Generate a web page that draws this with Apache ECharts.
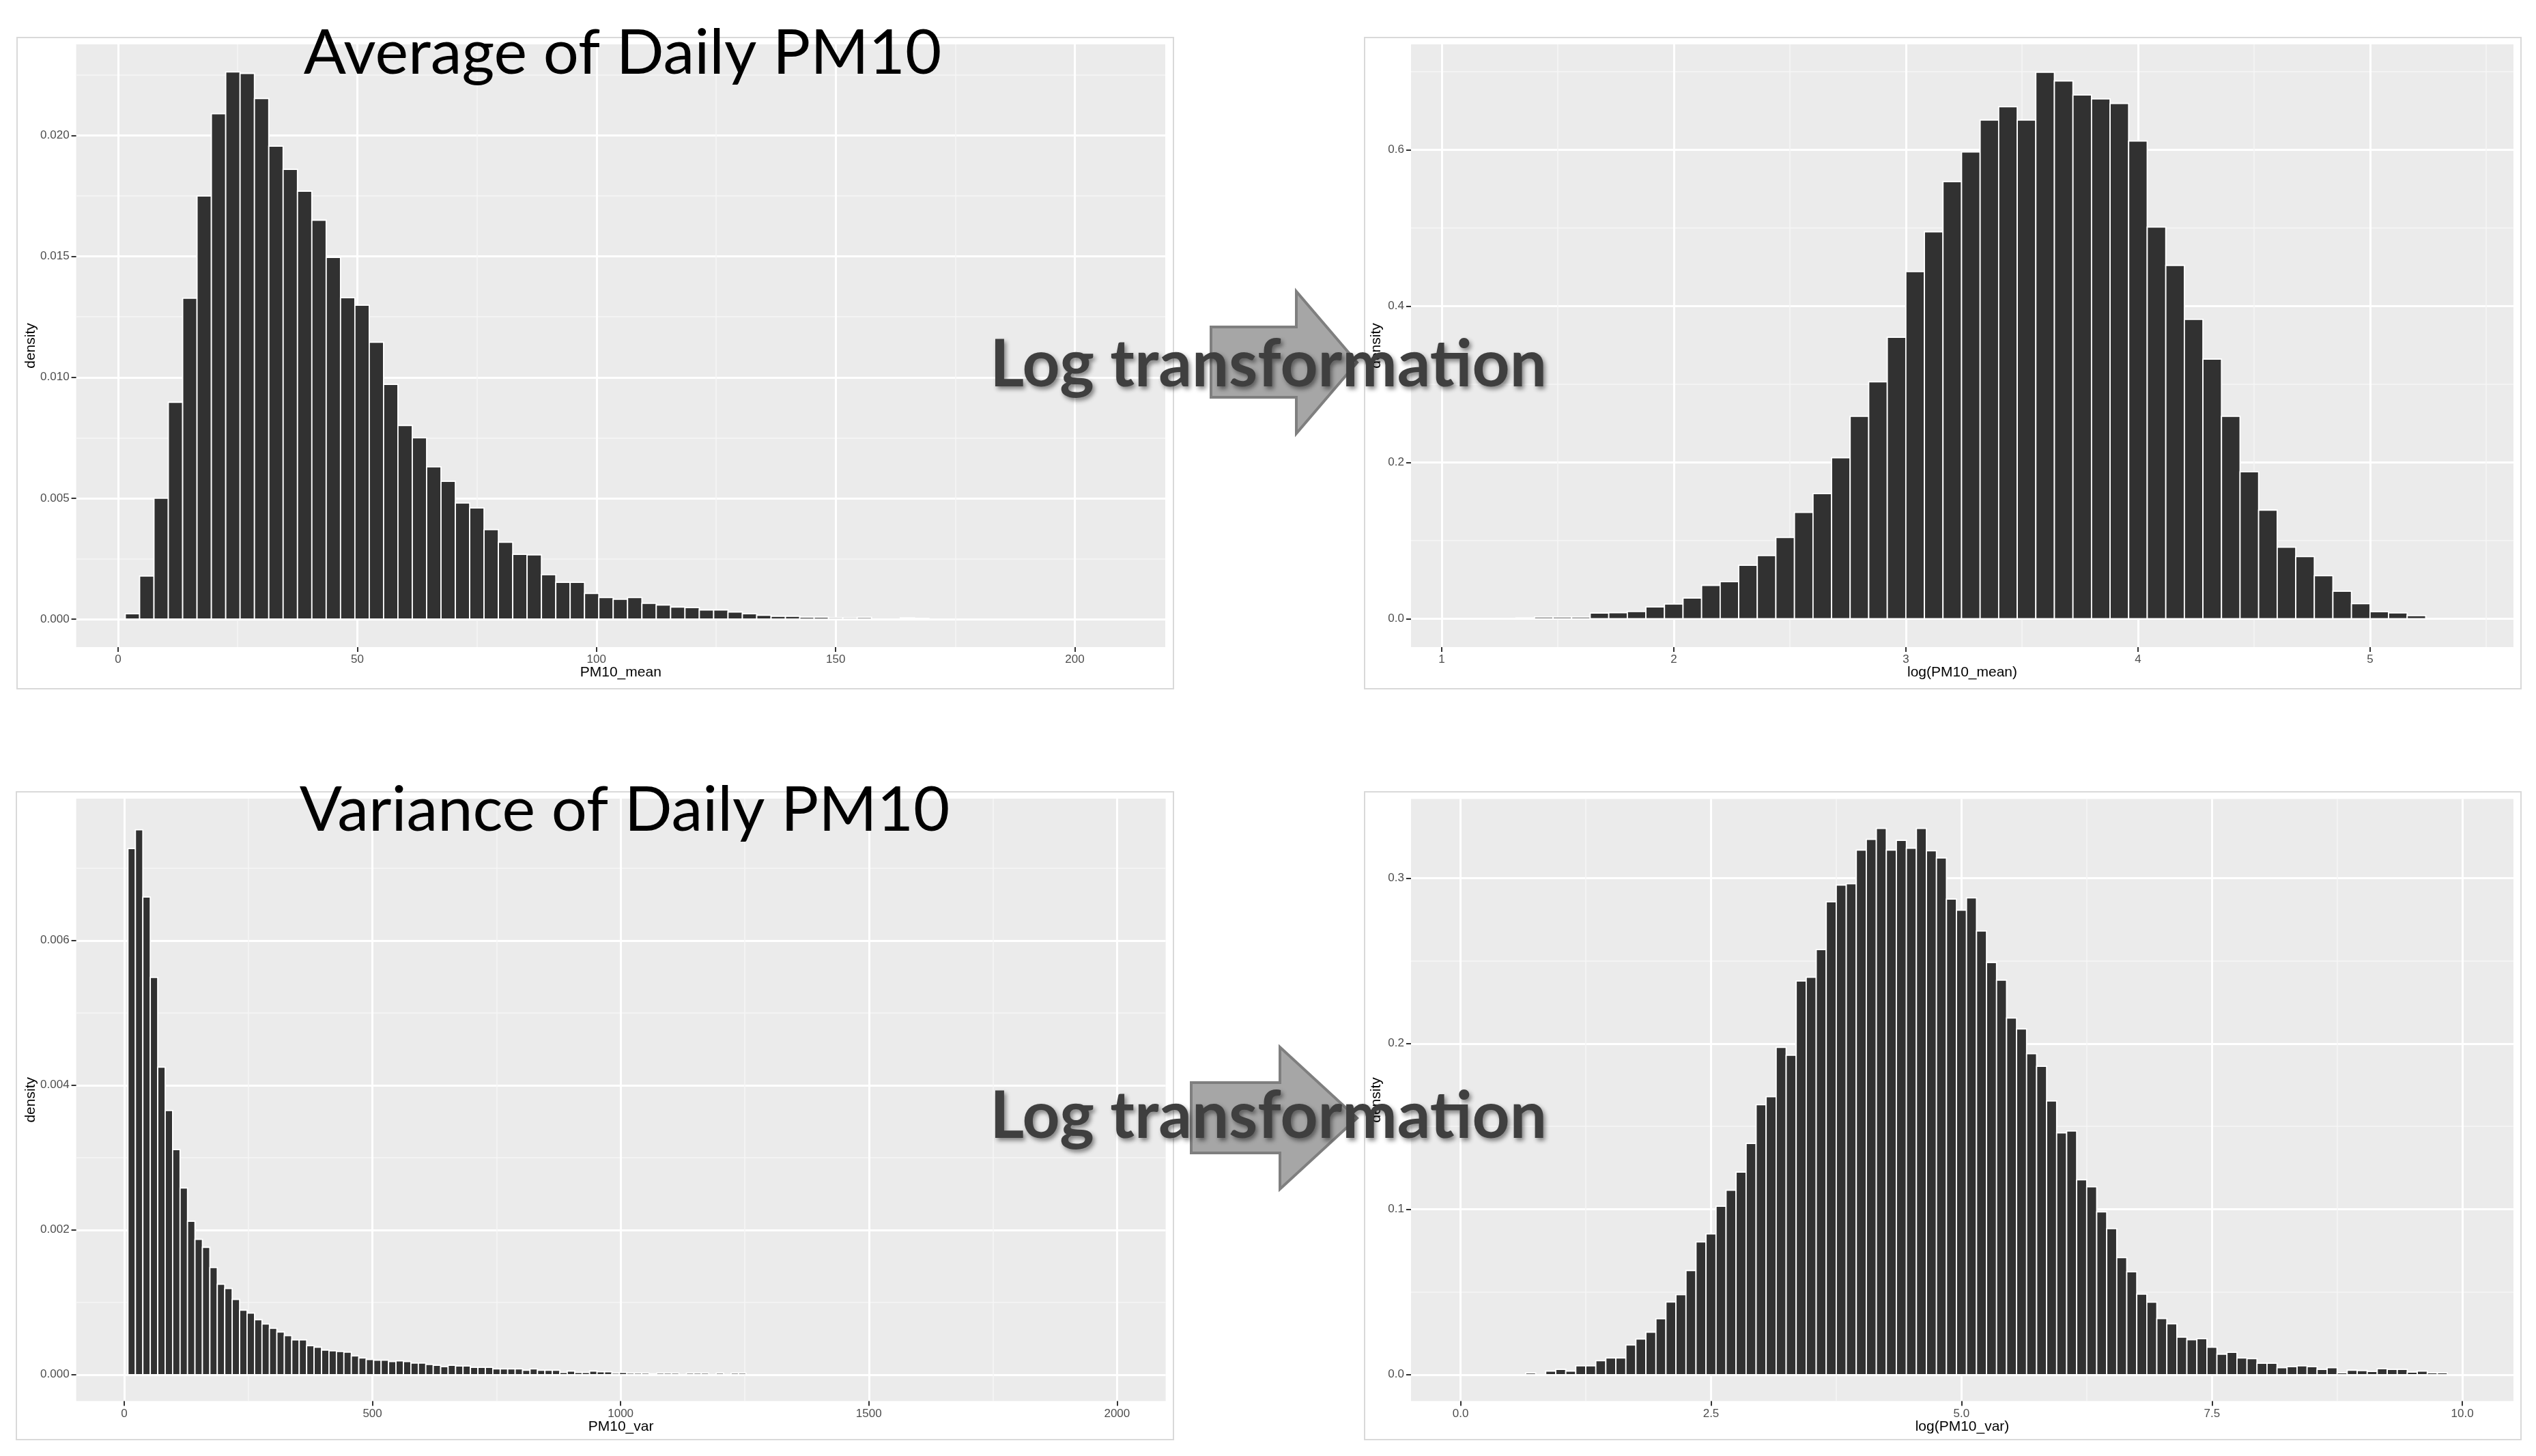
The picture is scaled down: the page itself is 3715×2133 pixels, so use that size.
<!DOCTYPE html>
<html>
<head>
<meta charset="utf-8">
<title>PM10 histograms</title>
<script src="https://cdn.jsdelivr.net/npm/echarts@6.0.0/dist/echarts.min.js"></script>
<style>
  html, body { margin: 0; padding: 0; background: #fff; }
  #main { width: 3715px; height: 2133px; }
</style>
</head>
<body>
<div id="main"></div>
<script>
// ---- Average of daily PM10 (binwidth 3) ----
var meanBins = [3, 6, 9, 12, 15, 18, 21, 24, 27, 30, 33, 36, 39, 42, 45, 48, 51, 54, 57, 60,
    63, 66, 69, 72, 75, 78, 81, 84, 87, 90, 93, 96, 99, 102, 105, 108, 111, 114, 117, 120,
    123, 126, 129, 132, 135, 138, 141, 144, 147, 150, 153, 156, 159, 162, 165, 168];
var meanDensity = [0.00022, 0.00178, 0.0050, 0.00897, 0.01327, 0.0175, 0.0209, 0.02263, 0.02257, 0.02153,
    0.01956, 0.0186, 0.0177, 0.0165, 0.01496, 0.01329, 0.01298, 0.01145, 0.00971, 0.00801,
    0.0075, 0.0063, 0.0057, 0.0048, 0.0046, 0.0037, 0.00318, 0.00268, 0.00266, 0.00184,
    0.00152, 0.00152, 0.00106, 0.00089, 0.00082, 0.00089, 0.00065, 0.00058, 0.0005, 0.00048,
    0.00038, 0.00038, 0.00029, 0.00022, 0.00016, 0.00012, 0.00012, 0.00008, 0.00008, 0.00006,
    0.00006, 0.00007, 0, 0, 0.00005, 0.00003];
var meanTicks = [0, 50, 100, 150, 200];
var meanDensityTicks = [0, 0.005, 0.010, 0.015, 0.020];

// ---- log(PM10_mean) (binwidth 0.08) ----
var logMeanBins = [1.36, 1.44, 1.52, 1.60, 1.68, 1.76, 1.84, 1.92, 2.00, 2.08, 2.16, 2.24, 2.32, 2.40,
    2.48, 2.56, 2.64, 2.72, 2.80, 2.88, 2.96, 3.04, 3.12, 3.20, 3.28, 3.36, 3.44, 3.52, 3.60,
    3.68, 3.76, 3.84, 3.92, 4.00, 4.08, 4.16, 4.24, 4.32, 4.40, 4.48, 4.56, 4.64, 4.72, 4.80,
    4.88, 4.96, 5.04, 5.12, 5.20];
var logMeanDensity = [0.001, 0.0023, 0.0023, 0.0023, 0.0073, 0.0078, 0.0093, 0.0151, 0.0189, 0.0265,
    0.0427, 0.0474, 0.0683, 0.0808, 0.104, 0.136, 0.160, 0.206, 0.259, 0.303, 0.360, 0.444,
    0.495, 0.559, 0.597, 0.638, 0.655, 0.638, 0.699, 0.688, 0.670, 0.665, 0.659, 0.611, 0.501,
    0.452, 0.383, 0.332, 0.259, 0.188, 0.139, 0.0915, 0.0795, 0.055, 0.0352, 0.0193, 0.0091,
    0.0074, 0.0040];
var logMeanTicks = [1, 2, 3, 4, 5];
var logMeanDensityTicks = [0, 0.2, 0.4, 0.6];

// ---- Variance of daily PM10 (binwidth 15) ----
var varBins = [15, 30, 45, 60, 75, 90, 105, 120, 135, 150, 165, 180, 195, 210, 225, 240, 255, 270,
    285, 300, 315, 330, 345, 360, 375, 390, 405, 420, 435, 450, 465, 480, 495, 510, 525, 540,
    555, 570, 585, 600, 615, 630, 645, 660, 675, 690, 705, 720, 735, 750, 765, 780, 795, 810,
    825, 840, 855, 870, 885, 900, 915, 930, 945, 960, 975, 990, 1005, 1020, 1035, 1050, 1065,
    1080, 1095, 1110, 1125, 1140, 1155, 1170, 1185, 1200, 1215, 1230, 1245];
var varDensity = [0.00727, 0.00753, 0.00660, 0.00549, 0.00425, 0.00365, 0.00311, 0.00258, 0.00212, 0.00187,
    0.00176, 0.00148, 0.00125, 0.00119, 0.00104, 0.00089, 0.00085, 0.00076, 0.00070, 0.00064,
    0.00059, 0.00054, 0.00048, 0.00048, 0.00040, 0.00038, 0.00034, 0.00033, 0.00032, 0.00031,
    0.00026, 0.00023, 0.00021, 0.00020, 0.00020, 0.00018, 0.00019, 0.00018, 0.00016, 0.00016,
    0.00014, 0.00013, 0.00011, 0.00013, 0.00012, 0.00012, 0.00010, 0.00010, 0.00010, 0.00008,
    0.00008, 0.00008, 0.00008, 0.00006, 0.00008, 0.00006, 0.00006, 0.00006, 0.00003, 0.00005,
    0.00003, 0.00003, 0.00005, 0.00004, 0.00004, 0.00002, 0.00003, 0.00002, 0.00002, 0.00002,
    0.00001, 0.00002, 0.00002, 0.00002, 0, 0.00002, 0.00002, 0.00002, 0, 0.00002,
    0, 0.00002, 0.00002];
var varTicks = [0, 500, 1000, 1500, 2000];
var varDensityTicks = [0, 0.002, 0.004, 0.006];

// ---- log(PM10_var) (binwidth 0.1) ----
var logVarBins = [0.7, 0.8, 0.9, 1.0, 1.1, 1.2, 1.3, 1.4, 1.5, 1.6, 1.7, 1.8, 1.9, 2.0, 2.1, 2.2, 2.3,
    2.4, 2.5, 2.6, 2.7, 2.8, 2.9, 3.0, 3.1, 3.2, 3.3, 3.4, 3.5, 3.6, 3.7, 3.8, 3.9, 4.0, 4.1, 4.2,
    4.3, 4.4, 4.5, 4.6, 4.7, 4.8, 4.9, 5.0, 5.1, 5.2, 5.3, 5.4, 5.5, 5.6, 5.7, 5.8, 5.9, 6.0, 6.1,
    6.2, 6.3, 6.4, 6.5, 6.6, 6.7, 6.8, 6.9, 7.0, 7.1, 7.2, 7.3, 7.4, 7.5, 7.6, 7.7, 7.8, 7.9, 8.0,
    8.1, 8.2, 8.3, 8.4, 8.5, 8.6, 8.7, 8.8, 8.9, 9.0, 9.1, 9.2, 9.3, 9.4, 9.5, 9.6, 9.7, 9.8];
var logVarDensity = [0.001, 0,
    0.0021, 0.0032, 0.0021, 0.0053, 0.0053, 0.0084, 0.0101, 0.0101, 0.0179, 0.0215,
    0.0257, 0.0338, 0.0439, 0.0483, 0.0629, 0.0802, 0.0850, 0.1017, 0.1114, 0.1224,
    0.1397, 0.1631, 0.1679, 0.1977, 0.1930, 0.2378, 0.2401, 0.2568, 0.2857, 0.2958,
    0.2966, 0.3169, 0.3234, 0.3300, 0.3169, 0.3228, 0.3180, 0.3300, 0.3165, 0.3122,
    0.2873, 0.2806, 0.2880, 0.268, 0.249, 0.2383, 0.2154, 0.2088, 0.1939, 0.1863,
    0.1653, 0.1461, 0.1472, 0.1177, 0.1135, 0.0983, 0.0882, 0.0707, 0.0621, 0.0486,
    0.0438, 0.0339, 0.0307, 0.0227, 0.0211, 0.0217, 0.0166, 0.0124, 0.0135, 0.0101,
    0.0097, 0.0069, 0.0069, 0.0042, 0.0048, 0.0053, 0.0048, 0.0032, 0.0042, 0.0011,
    0.0027, 0.0025, 0.0019, 0.0036, 0.0032, 0.0032, 0.0015, 0.0021, 0.0011, 0.0011];
var logVarTicks = [0, 2.5, 5, 7.5, 10];
var logVarDensityTicks = [0, 0.1, 0.2, 0.3];

var axisFont = 'Liberation Sans, Arial, sans-serif';
var titleFont = 'Lato, "Open Sans", sans-serif';

function pairs(xs, ys) {
    return xs.map(function (x, i) { return [x, ys[i]]; });
}

// one histogram bar per bin, drawn through the axis scales
function histItem(binWidth) {
    return function (params, api) {
        var x = api.value(0), y = api.value(1);
        if (!y) return null;
        var p0 = api.coord([x - binWidth / 2, y]);
        var p1 = api.coord([x + binWidth / 2, 0]);
        return {
            type: 'rect',
            shape: { x: p0[0], y: p0[1], width: p1[0] - p0[0], height: p1[1] - p0[1] },
            style: { fill: '#313131', stroke: '#ffffff', lineWidth: 1.8 }
        };
    };
}

function xAxisOf(gi, range, step, ticks, digits, name) {
    return {
        type: 'value', gridIndex: gi, min: range[0], max: range[1],
        minInterval: step, maxInterval: step,
        name: name, nameLocation: 'middle', nameGap: 27, nameMoveOverlap: false,
        nameTextStyle: { color: '#000', fontSize: 21, fontFamily: axisFont },
        axisLine: { show: false, onZero: false },
        axisTick: { show: true, length: 7, customValues: ticks, lineStyle: { color: '#333', width: 2 } },
        axisLabel: {
            customValues: ticks, margin: 10, color: '#4d4d4d', fontSize: 17, fontFamily: axisFont,
            formatter: function (v) { return v.toFixed(digits); }
        },
        splitLine: { show: true, lineStyle: { color: '#ffffff', width: 3 } },
        minorTick: { show: false, splitNumber: 2 },
        minorSplitLine: { show: true, lineStyle: { color: '#f6f6f6', width: 1.5 } }
    };
}

function yAxisOf(gi, range, step, ticks, digits, gap) {
    return {
        type: 'value', gridIndex: gi, min: range[0], max: range[1],
        minInterval: step, maxInterval: step,
        name: 'density', nameLocation: 'middle', nameRotate: 90, nameGap: gap, nameMoveOverlap: false,
        nameTextStyle: { color: '#000', fontSize: 21, fontFamily: axisFont },
        axisLine: { show: false, onZero: false },
        axisTick: { show: true, length: 7, customValues: ticks, lineStyle: { color: '#333', width: 2 } },
        axisLabel: {
            customValues: ticks, margin: 10, color: '#4d4d4d', fontSize: 17, fontFamily: axisFont,
            formatter: function (v) { return v.toFixed(digits); }
        },
        splitLine: { show: true, lineStyle: { color: '#ffffff', width: 3 } },
        minorTick: { show: false, splitNumber: 2 },
        minorSplitLine: { show: true, lineStyle: { color: '#f6f6f6', width: 1.5 } }
    };
}

function gridOf(left, top, width, height) {
    return {
        left: left, top: top, width: width, height: height, show: true,
        backgroundColor: '#ebebeb', borderWidth: 0, containLabel: false, outerBoundsMode: 'none'
    };
}

function frame(x, y, w, h) {
    return {
        type: 'rect', z: 1, silent: true,
        shape: { x: x, y: y, width: w, height: h },
        style: { fill: 'none', stroke: '#d9d9d9', lineWidth: 2 }
    };
}

function title(text, x, y) {
    return {
        type: 'text', z: 100, silent: true,
        style: { text: text, x: x, y: y, font: '92px ' + titleFont, fill: '#000', align: 'center', verticalAlign: 'middle' }
    };
}

function logText(y) {
    return {
        type: 'text', z: 101, silent: true,
        style: {
            text: 'Log transformation', x: 1858, y: y, font: 'bold 96px ' + titleFont, fill: '#3f3f3f',
            align: 'center', verticalAlign: 'middle',
            textShadowColor: 'rgba(0,0,0,0.45)', textShadowBlur: 6, textShadowOffsetX: 3, textShadowOffsetY: 4
        }
    };
}

function arrow(points) {
    return {
        type: 'polygon', z: 99, silent: true,
        shape: { points: points },
        style: { fill: '#a6a6a6', stroke: '#7f7f7f', lineWidth: 4 }
    };
}

var chart = echarts.init(document.getElementById('main'), null, { renderer: 'canvas' });

chart.setOption({
    backgroundColor: '#ffffff',
    animation: false,
    grid: [
        gridOf(111.6, 65, 1595.4, 883),
        gridOf(2067, 65, 1615, 883),
        gridOf(111.6, 1170, 1596, 882.6),
        gridOf(2067, 1170.4, 1615, 882.2)
    ],
    xAxis: [
        xAxisOf(0, [-8.76, 218.9], 50, meanTicks, 0, 'PM10_mean'),
        xAxisOf(1, [0.868, 5.618], 1, logMeanTicks, 0, 'log(PM10_mean)'),
        xAxisOf(2, [-96.8, 2098], 500, varTicks, 0, 'PM10_var'),
        xAxisOf(3, [-0.4947, 10.51], 2.5, logVarTicks, 1, 'log(PM10_var)')
    ],
    yAxis: [
        yAxisOf(0, [-0.001158, 0.02377], 0.005, meanDensityTicks, 3, 56),
        yAxisOf(1, [-0.0363, 0.7347], 0.2, logMeanDensityTicks, 1, 40),
        yAxisOf(2, [-0.000366, 0.00796], 0.002, varDensityTicks, 3, 56),
        yAxisOf(3, [-0.016, 0.3478], 0.1, logVarDensityTicks, 1, 40)
    ],
    series: [
        { type: 'custom', xAxisIndex: 0, yAxisIndex: 0, clip: true, renderItem: histItem(3), data: pairs(meanBins, meanDensity) },
        { type: 'custom', xAxisIndex: 1, yAxisIndex: 1, clip: true, renderItem: histItem(0.08), data: pairs(logMeanBins, logMeanDensity) },
        { type: 'custom', xAxisIndex: 2, yAxisIndex: 2, clip: true, renderItem: histItem(15), data: pairs(varBins, varDensity) },
        { type: 'custom', xAxisIndex: 3, yAxisIndex: 3, clip: true, renderItem: histItem(0.1), data: pairs(logVarBins, logVarDensity) }
    ],
    graphic: [
        frame(25, 55, 1694, 954),
        frame(1999, 55, 1694, 954),
        frame(24, 1160, 1695, 949),
        frame(1999, 1160, 1694, 949),
        title('Average of Daily PM10', 912, 78),
        title('Variance of Daily PM10', 915, 1187),
        arrow([[1774, 479], [1899, 479], [1899, 427], [1988, 531], [1899, 635], [1899, 582], [1774, 582]]),
        arrow([[1745, 1586], [1875, 1586], [1875, 1534], [1988, 1638], [1875, 1742], [1875, 1689], [1745, 1689]]),
        logText(535),
        logText(1636)
    ]
});
</script>
</body>
</html>
